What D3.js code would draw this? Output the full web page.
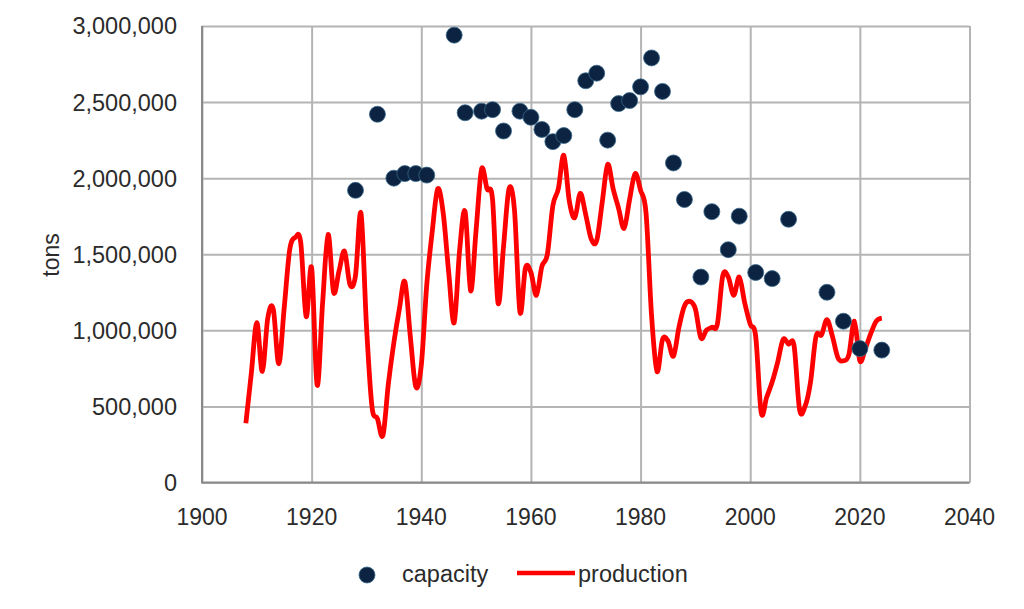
<!DOCTYPE html>
<meta charset="utf-8">
<style>
body { margin: 0; background: #fff; }
text { font-family: "Liberation Sans", Arial, sans-serif; fill: #2b2b2b; }
.grid line { stroke: #b4b4b4; stroke-width: 2; }
.grid path { display: none; }
</style>
<svg width="1024" height="609"></svg>
<script src="https://d3js.org/d3.v7.min.js"></script>
<script>
// capacity, tons
var capYears = [1928, 1932, 1935, 1937, 1939, 1941, 1946, 1948, 1951, 1953, 1955, 1958, 1960, 1962, 1964, 1966, 1968, 1970, 1972, 1974, 1976, 1978, 1980, 1982, 1984, 1986, 1988, 1991, 1993, 1996, 1998, 2001, 2004, 2007, 2014, 2017, 2020, 2024];
var capValues = [1920000, 2420000, 2000000, 2030000, 2030000, 2020000, 2940000, 2430000, 2440000, 2450000, 2310000, 2440000, 2400000, 2320000, 2240000, 2280000, 2450000, 2640000, 2690000, 2250000, 2490000, 2510000, 2600000, 2790000, 2570000, 2100000, 1860000, 1350000, 1780000, 1530000, 1750000, 1380000, 1340000, 1730000, 1250000, 1060000, 880000, 870000];

// production, tons per year 1908..2024
var prodStart = 1908;
var prodValues = [
  390000, 720000, 1050000, 730000, 1080000, 1140000, 780000, 1150000, 1530000, 1610000,   // 1908-1917
  1580000, 1090000, 1410000, 640000, 1180000, 1630000, 1250000, 1390000, 1520000, 1300000, // 1918-1927
  1360000, 1770000, 1030000, 500000, 420000, 310000, 650000, 920000, 1140000, 1320000,    // 1928-1937
  960000, 630000, 770000, 1300000, 1650000, 1930000, 1770000, 1380000, 1050000, 1530000,  // 1938-1947
  1780000, 1260000, 1660000, 2060000, 1930000, 1860000, 1180000, 1550000, 1930000, 1790000, // 1948-1957
  1120000, 1410000, 1380000, 1230000, 1420000, 1500000, 1820000, 1930000, 2150000, 1850000, // 1958-1967
  1740000, 1900000, 1760000, 1600000, 1590000, 1840000, 2090000, 1930000, 1800000, 1670000, // 1968-1977
  1860000, 2030000, 1920000, 1770000, 1100000, 730000, 940000, 930000, 830000, 1020000,   // 1978-1987
  1160000, 1190000, 1140000, 950000, 1000000, 1020000, 1040000, 1360000, 1350000, 1230000, // 1988-1997
  1350000, 1180000, 1040000, 960000, 460000, 560000, 660000, 790000, 940000, 910000,      // 1998-2007
  900000, 480000, 500000, 660000, 960000, 970000, 1070000, 960000, 820000, 800000,        // 2008-2017
  840000, 1060000, 800000, 880000, 980000, 1060000, 1080000                               // 2018-2024
];

var xTicks = [1900, 1920, 1940, 1960, 1980, 2000, 2020, 2040];
var yTicks = [0, 500000, 1000000, 1500000, 2000000, 2500000, 3000000];

var svg = d3.select("svg");

var x = d3.scaleLinear().domain([1900, 2040]).range([202, 969.5]),
    y = d3.scaleLinear().domain([0, 3000000]).range([482.5, 26]);

// grid
svg.append("g")
    .attr("class", "grid")
    .attr("transform", "translate(0,482.5)")
    .call(d3.axisBottom(x).tickValues(xTicks).tickSize(-(482.5 - 26)).tickFormat(""));

svg.append("g")
    .attr("class", "grid")
    .attr("transform", "translate(202,0)")
    .call(d3.axisLeft(y).tickValues(yTicks).tickSize(-(969.5 - 202)).tickFormat(""));

// axis lines
svg.append("line").attr("x1", 202).attr("x2", 202).attr("y1", 26).attr("y2", 482.5)
    .attr("stroke", "#8a8a8a").attr("stroke-width", 2);
svg.append("line").attr("x1", 201).attr("x2", 969.5).attr("y1", 482.5).attr("y2", 482.5)
    .attr("stroke", "#8a8a8a").attr("stroke-width", 2);

// tick labels
svg.append("g").selectAll("text")
    .data(xTicks)
  .enter().append("text")
    .attr("x", function(d) { return x(d); })
    .attr("y", 525)
    .attr("text-anchor", "middle")
    .style("font-size", "23px")
    .text(function(d) { return d; });

svg.append("g").selectAll("text")
    .data(yTicks)
  .enter().append("text")
    .attr("x", 177)
    .attr("y", function(d) { return y(d); })
    .attr("dy", "0.36em")
    .attr("text-anchor", "end")
    .style("font-size", "23.5px")
    .text(function(d) { return d3.format(",")(d); });

svg.append("text")
    .attr("transform", "translate(59,255) rotate(-90)")
    .attr("text-anchor", "middle")
    .style("font-size", "23px")
    .text("tons");

// production line
var prod = prodValues.map(function(v, i) { return {year: prodStart + i, value: v}; });

var line = d3.line()
    .x(function(d) { return x(d.year); })
    .y(function(d) { return y(d.value); })
    .curve(d3.curveCatmullRom.alpha(0));

svg.append("path")
    .datum(prod)
    .attr("fill", "none")
    .attr("stroke", "#ff0000")
    .attr("stroke-width", 4.8)
    .attr("stroke-linejoin", "round")
    .attr("d", line);

// capacity dots
svg.append("g").selectAll("circle")
    .data(capYears)
  .enter().append("circle")
    .attr("cx", function(d) { return x(d); })
    .attr("cy", function(d, i) { return y(capValues[i]); })
    .attr("r", 8)
    .attr("fill", "#0c2342")
    .attr("stroke", "#3a6a8a")
    .attr("stroke-width", 0.8);

// legend
var legend = svg.append("g");
legend.append("circle").attr("cx", 367).attr("cy", 575).attr("r", 8)
    .attr("fill", "#0c2342").attr("stroke", "#3a6a8a").attr("stroke-width", 0.8);
legend.append("text").attr("x", 402).attr("y", 582).style("font-size", "23.5px").text("capacity");
legend.append("line").attr("x1", 517).attr("x2", 575).attr("y1", 573).attr("y2", 573)
    .attr("stroke", "#ff0000").attr("stroke-width", 4.5);
legend.append("text").attr("x", 578).attr("y", 582).style("font-size", "23.5px").text("production");
</script>
